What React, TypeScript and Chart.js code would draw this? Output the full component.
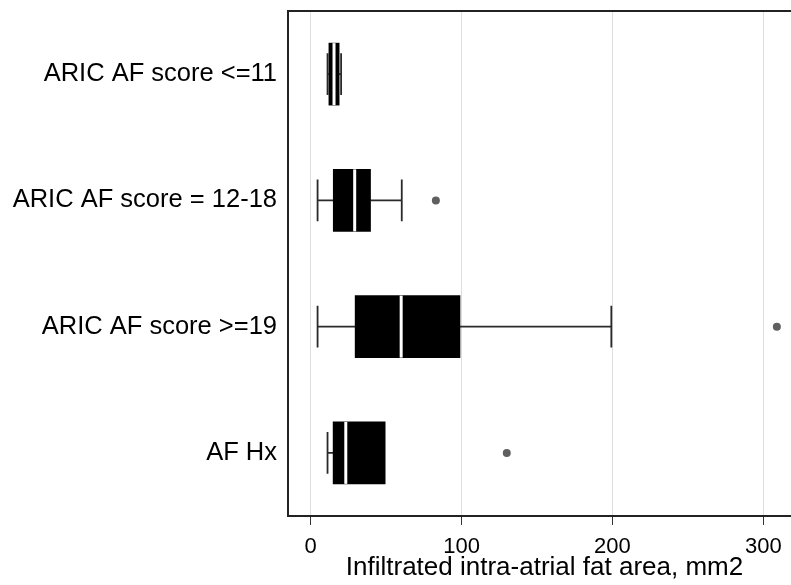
import React, { useEffect, useRef } from "react";
import { Chart, registerables } from "chart.js";

Chart.register(...registerables);

const CATEGORIES = [
  "ARIC AF score <=11",
  "ARIC AF score = 12-18",
  "ARIC AF score >=19",
  "AF Hx",
];
const MINS = [11.2, 4.6, 4.6, 11.2];
const Q1 = [12.1, 15, 29.5, 14.9];
const MEDIANS = [15.5, 29.2, 60, 23.3];
const Q3 = [18.9, 39.7, 99, 49.4];
const MAXS = [20.2, 60.4, 199.3, 49.4];
const OUTLIERS: number[][] = [[], [83], [309], [130]];
const X_TICKS = [0, 100, 200, 300];
const X_MIN = -15;
const X_MAX = 325;
const X_TITLE = "Infiltrated intra-atrial fat area, mm2";

const boxPlugin = {
  id: "boxExtras",
  beforeDatasetsDraw(chart: any) {
    const { ctx, scales } = chart;
    const x = scales.x;
    const y = scales.y;
    const band = Math.abs(y.getPixelForValue(1) - y.getPixelForValue(0));
    const capHalf = band * 0.165;
    ctx.save();
    ctx.strokeStyle = "#2a2a2a";
    ctx.lineWidth = 1.8;
    CATEGORIES.forEach((_, i) => {
      const yc = y.getPixelForValue(i);
      ctx.beginPath();
      if (MINS[i] < Q1[i]) {
        const pMin = x.getPixelForValue(MINS[i]);
        const pQ1 = x.getPixelForValue(Q1[i]);
        ctx.moveTo(pMin, yc);
        ctx.lineTo(pQ1, yc);
        ctx.moveTo(pMin, yc - capHalf);
        ctx.lineTo(pMin, yc + capHalf);
      }
      if (MAXS[i] > Q3[i]) {
        const pMax = x.getPixelForValue(MAXS[i]);
        const pQ3 = x.getPixelForValue(Q3[i]);
        ctx.moveTo(pQ3, yc);
        ctx.lineTo(pMax, yc);
        ctx.moveTo(pMax, yc - capHalf);
        ctx.lineTo(pMax, yc + capHalf);
      }
      ctx.stroke();
    });
    ctx.restore();
  },
  afterDatasetsDraw(chart: any) {
    const { ctx, scales } = chart;
    const x = scales.x;
    const meta = chart.getDatasetMeta(0);
    ctx.save();
    ctx.strokeStyle = "#fff";
    ctx.lineWidth = 3;
    meta.data.forEach((el: any, i: number) => {
      const { y: yc, height } = el.getProps(["y", "height"], true);
      const px = x.getPixelForValue(MEDIANS[i]);
      ctx.beginPath();
      ctx.moveTo(px, yc - height / 2);
      ctx.lineTo(px, yc + height / 2);
      ctx.stroke();
    });
    ctx.restore();
  },
  afterDraw(chart: any) {
    const { ctx, chartArea } = chart;
    ctx.save();
    ctx.strokeStyle = "#222";
    ctx.lineWidth = 2;
    ctx.strokeRect(
      chartArea.left,
      chartArea.top,
      chartArea.right - chartArea.left,
      chartArea.bottom - chartArea.top
    );
    ctx.restore();
  },
};

export default function App() {
  const canvasRef = useRef<HTMLCanvasElement | null>(null);

  useEffect(() => {
    if (!canvasRef.current) return;
    Chart.defaults.font.family = "'Liberation Sans', Arial, sans-serif";
    Chart.defaults.color = "#000";

    const outlierPoints: { x: number; y: string }[] = [];
    OUTLIERS.forEach((list, i) =>
      list.forEach((v) => outlierPoints.push({ x: v, y: CATEGORIES[i] }))
    );

    const chart = new Chart(canvasRef.current, {
      type: "bar",
      data: {
        labels: CATEGORIES,
        datasets: [
          {
            type: "bar",
            data: CATEGORIES.map((_, i) => [Q1[i], Q3[i]]) as any,
            backgroundColor: "#000",
            borderWidth: 0,
            barThickness: 62,
          } as any,
          {
            type: "scatter",
            data: outlierPoints as any,
            backgroundColor: "#5f5f5f",
            borderWidth: 0,
            pointRadius: 4,
            pointStyle: "circle",
          } as any,
        ],
      },
      options: {
        indexAxis: "y",
        responsive: false,
        animation: false,
        layout: { padding: { left: 0, top: 11, right: 1, bottom: 0 } },
        plugins: {
          legend: { display: false },
          tooltip: { enabled: false },
        },
        scales: {
          x: {
            type: "linear",
            min: X_MIN,
            max: X_MAX,
            afterBuildTicks: (s: any) => {
              s.ticks = X_TICKS.map((v) => ({ value: v }));
            },
            afterFit: (s: any) => {
              s.height = 69;
              s.paddingLeft = 0;
              s.paddingRight = 0;
            },
            grid: {
              color: "#dedede",
              lineWidth: 1,
              tickColor: "#333",
              tickLength: 9,
            },
            border: { display: false },
            ticks: {
              font: { size: 22 },
              color: "#000",
              padding: 9,
              maxRotation: 0,
            },
            title: {
              display: true,
              text: X_TITLE,
              font: { size: 26 },
              color: "#000",
              padding: { top: 0, bottom: 2 },
            },
          },
          y: {
            type: "category",
            labels: CATEGORIES,
            offset: true,
            afterFit: (s: any) => {
              s.width = 288;
              s.paddingTop = 0;
              s.paddingBottom = 0;
            },
            grid: { display: false, drawTicks: false },
            border: { display: false },
            ticks: {
              font: { size: 25.5 },
              color: "#000",
              padding: 11,
            },
          },
        },
      } as any,
      plugins: [boxPlugin],
    });

    return () => chart.destroy();
  }, []);

  return (
    <div
      style={{
        position: "fixed",
        left: 0,
        top: 0,
        width: 791,
        height: 585,
        overflow: "hidden",
        background: "#fff",
      }}
    >
      <canvas ref={canvasRef} width={805} height={585} />
    </div>
  );
}
